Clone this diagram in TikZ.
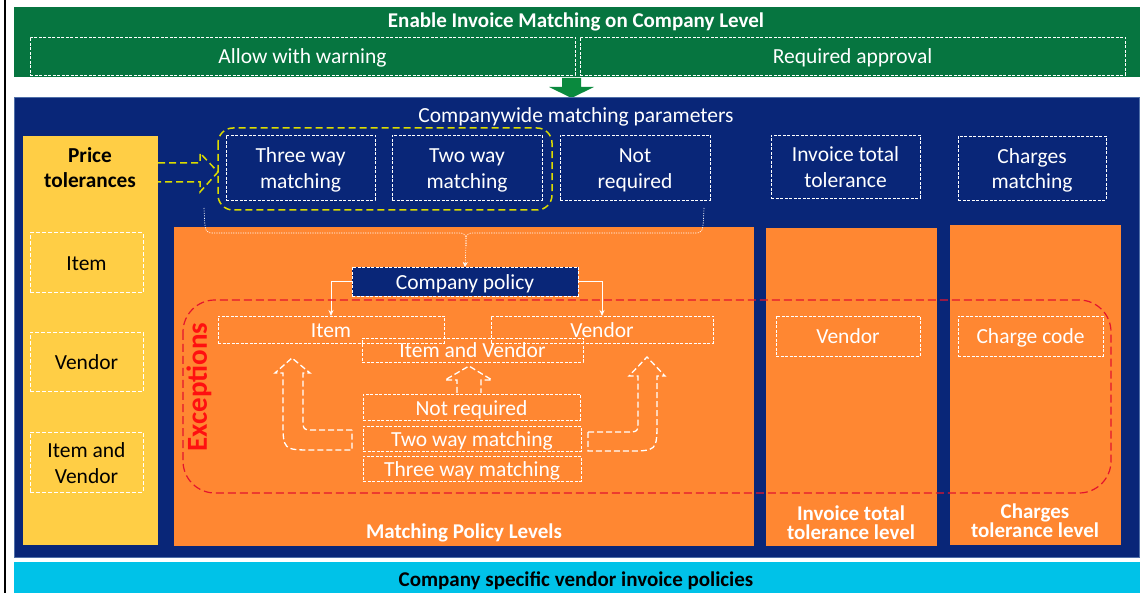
\documentclass[tikz,border=0pt]{standalone}
\usepackage{fontspec}
\setmainfont{Carlito}
\usetikzlibrary{arrows.meta}
\definecolor{cgreen}{HTML}{067540}
\definecolor{cgreenarr}{HTML}{0A8A3E}
\definecolor{cnavy}{HTML}{092678}
\definecolor{cnavyline}{HTML}{4F6FA8}
\definecolor{cyel}{HTML}{FFCE45}
\definecolor{corange}{HTML}{FF8732}
\definecolor{ccyan}{HTML}{00C2E8}
\definecolor{cred}{HTML}{E3142E}
\definecolor{credtext}{HTML}{FF1010}
\definecolor{cydash}{HTML}{DCDC00}
\begin{document}
\begin{tikzpicture}[x=1pt,y=-1pt,
  every node/.style={font=\fontsize{21.5}{25.5}\selectfont, inner sep=0pt, outer sep=0pt},
  oneline/.style={text height=16pt, text depth=0pt},
  twoline/.style={text height=42pt, text depth=0pt},
  dbox/.style={draw=white, dash pattern=on 3pt off 1.5pt, line width=0.9pt, text=white, align=center, oneline},
  dboxk/.style={draw=white, dash pattern=on 4pt off 2pt, line width=1pt, text=black, align=center, oneline},
  wtext/.style={text=white, align=center},
  btext/.style={text=white, align=center, font=\fontsize{21}{21}\selectfont\bfseries},
  conn/.style={draw=white, line width=0.8pt, -{Stealth[length=6pt,width=5pt]}},
  bracel/.style={draw=white, line width=0.6pt, dash pattern=on 1.2pt off 1.2pt},
  blockarr/.style={draw=white, line width=1.3pt, dash pattern=on 6pt off 3pt},
  ydash/.style={draw=cydash, line width=1.5pt, dash pattern=on 7pt off 4pt},
  rdash/.style={draw=cred, line width=1.2pt, dash pattern=on 8pt off 4pt}
]
\useasboundingbox (0,0) rectangle (1143,593);
\fill[white] (0,0) rectangle (1143,593);
% left black line
\draw[line width=2pt, black] (5,0) -- (5,593);

% top green band
\node[fill=cgreen, minimum width=1126pt, minimum height=70pt] (green) at (577,42) {};
\node[btext] (title) at (576,21.5) {Enable Invoice Matching on Company Level};
\node[dbox, minimum width=545pt, minimum height=38pt] (allow) at (302.5,56) {Allow with warning};
\node[dbox, minimum width=545pt, minimum height=38pt] (req) at (852.5,56) {Required approval};

% green arrow
\fill[cgreenarr] (562,78) -- (581,78) -- (581,87) -- (594,87) -- (571.5,98) -- (549,87) -- (562,87) -- cycle;

% blue panel
\node[fill=cnavy, draw=cnavyline, line width=0.8pt, minimum width=1125pt, minimum height=460pt] (blue) at (576.5,327) {};
\node[wtext] (cwmp) at (576,116.5) {Companywide matching parameters};

% yellow panel
\node[fill=cyel, minimum width=135pt, minimum height=409pt] (yel) at (90.5,340.5) {};
\node[align=center, text=black, font=\fontsize{21.3}{25}\selectfont\bfseries] (pt) at (90,168) {Price\\tolerances};
\node[dboxk, minimum width=113pt, minimum height=60pt] (pitem) at (86.5,263) {Item};
\node[dboxk, minimum width=113pt, minimum height=59pt] (pven) at (86.5,362) {Vendor};
\node[dboxk, twoline, minimum width=113pt, minimum height=60pt] (piv) at (86.5,462) {Item and\\Vendor};

% orange panels
\node[fill=corange, minimum width=580pt, minimum height=319pt] (or1) at (464,386.5) {};
\node[fill=corange, minimum width=171pt, minimum height=318pt] (or2) at (851.5,387) {};
\node[fill=corange, minimum width=171pt, minimum height=320pt] (or3) at (1035.5,385) {};

% parameter boxes
\draw[ydash, rounded corners=15pt] (218,128) rectangle (552,210);
\node[dbox, twoline, minimum width=149pt, minimum height=65pt] (three) at (300.5,167.5) {Three way\\matching};
\node[dbox, twoline, minimum width=150pt, minimum height=65pt] (two) at (467,167.5) {Two way\\matching};
\node[dbox, twoline, minimum width=150pt, minimum height=65pt] (notreq) at (635,167.5) {Not\\required};
\node[dbox, twoline, minimum width=149pt, minimum height=63pt] (itt) at (845.5,166.5) {Invoice total\\tolerance};
\node[dbox, twoline, minimum width=148pt, minimum height=64pt] (chm) at (1032,168) {Charges\\matching};

% yellow dashed block arrow
\draw[ydash] (158,163) -- (200,163) -- (200,153) -- (218,172) -- (200,192) -- (200,182) -- (158,182);

% company policy and levels
\node[fill=cnavy, dbox, minimum width=226pt, minimum height=29pt] (cp) at (465,281.5) {Company policy};
\node[dbox, minimum width=226pt, minimum height=27pt] (itm) at (331,329.5) {Item};
\node[dbox, minimum width=222pt, minimum height=27pt] (ven) at (602,329.5) {Vendor};
\node[dbox, minimum width=221pt, minimum height=24pt] (iv) at (472.5,350) {Item and Vendor};
\node[dbox, minimum width=217pt, minimum height=26pt] (nr) at (471.5,407) {Not required};
\node[dbox, minimum width=218pt, minimum height=25pt] (twm) at (472,438.5) {Two way matching};
\node[dbox, minimum width=218pt, minimum height=25pt] (thm) at (472,468.5) {Three way matching};

\node[dbox, minimum width=144pt, minimum height=40pt] (ven2) at (848,336) {Vendor};
\node[dbox, minimum width=145pt, minimum height=40pt] (chc) at (1030.5,336) {Charge code};

% brace from parameters to company policy
\draw[bracel, -{Stealth[length=5pt,width=5pt]}] (204,208) .. controls (205,233) .. (214,233) -- (456,233) .. controls (466,233) .. (466,246) -- (cp.north);
\draw[bracel] (704,208) .. controls (703,233) .. (694,233) -- (476,233) .. controls (466,233) .. (466,246);

% connectors
\draw[conn] (cp.west) -| (itm.north);
\draw[conn] (cp.east) -| (ven.north);

% block arrows
\draw[blockarr] (352,430) -- (315,430) .. controls (303,430) .. (303,418) -- (303,373) -- (310,373) -- (292,358) -- (275,373) -- (283,373) -- (283,420) .. controls (283,450) .. (313,450) -- (352,450) -- cycle;
\draw[blockarr] (588,432) -- (626,432) .. controls (638,432) .. (638,420) -- (638,376) -- (629,376) -- (647,357) -- (665,376) -- (657,376) -- (657,421) .. controls (657,451) .. (627,451) -- (588,451) -- cycle;
\draw[blockarr] (457,393) -- (457,380) -- (445,380) -- (469,366) -- (492,380) -- (481,380) -- (481,393);

% exceptions frame
\draw[rdash, rounded corners=32pt] (183,300) rectangle (1111,493);
\node[rotate=90, text=credtext, font=\fontsize{29}{32}\selectfont\bfseries] (exc) at (199,387) {Exceptions};

% bottom labels
\node[btext] (mpl) at (464,533) {Matching Policy Levels};
\node[btext, font=\fontsize{21}{19.5}\selectfont\bfseries] (ittl) at (851,522.5) {Invoice total\\tolerance level};
\node[btext, font=\fontsize{21}{19.5}\selectfont\bfseries] (chtl) at (1035,520.5) {Charges\\tolerance level};

% cyan band
\node[fill=ccyan, minimum width=1126pt, minimum height=32pt] (cyan) at (577,578) {};
\node[text=black, font=\fontsize{21}{21}\selectfont\bfseries] (csv) at (576,580.5) {Company specific vendor invoice policies};
\end{tikzpicture}
\end{document}
